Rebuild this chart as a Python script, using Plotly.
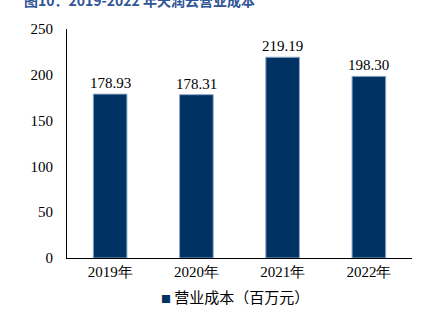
import plotly.graph_objects as go

# Operating cost of Tianrun Cloud, 2019-2022 (million yuan)
years = ["2019年", "2020年", "2021年", "2022年"]
costs = [178.93, 178.31, 219.19, 198.30]
series_name = "营业成本（百万元）"
title_text = "图10：2019-2022 年天润云营业成本"

bar_color = "#003263"
serif = "Times New Roman"
cjk = "Noto Sans CJK SC"

fig = go.Figure()
fig.add_trace(go.Bar(
    x=years,
    y=costs,
    name=series_name,
    marker=dict(color=bar_color, line=dict(color="#8fa9c8", width=1)),
    width=0.39,
    showlegend=False,
))

# Value labels above each bar
for yr, v in zip(years, costs):
    fig.add_annotation(
        x=yr, y=v, text=f"{v:.2f}",
        xref="x", yref="y",
        yanchor="bottom", yshift=1,
        showarrow=False,
        font=dict(family=serif, size=15, color="#000000"),
    )

# Figure caption along the top edge
fig.add_annotation(
    text=title_text,
    xref="paper", yref="paper",
    x=-0.13, y=1.125,
    xanchor="left", yanchor="middle",
    showarrow=False,
    font=dict(family=cjk, size=14, color="#2f5597", weight="bold"),
)

# Series key below the category axis
fig.add_annotation(
    text=f'<span style="color:{bar_color};font-size:10px">■</span> {series_name}',
    xref="paper", yref="paper",
    x=0.487, y=-0.17,
    xanchor="center", yanchor="middle",
    showarrow=False,
    font=dict(family=cjk, size=15, color="#000000"),
)

fig.update_layout(
    width=425, height=332,
    margin=dict(l=67, r=13, t=29, b=74),
    paper_bgcolor="white",
    plot_bgcolor="white",
    showlegend=False,
)

fig.update_xaxes(
    showline=True, linecolor="#000000", linewidth=1,
    ticks="", showgrid=False,
    tickfont=dict(family=serif, size=15, color="#000000"),
)
fig.update_yaxes(
    range=[0, 250], dtick=50,
    showline=True, linecolor="#000000", linewidth=1,
    ticks="", showgrid=False, zeroline=False,
    tickfont=dict(family=serif, size=15, color="#000000"),
    ticklabelstandoff=10,
)

fig.write_html("out.html")
